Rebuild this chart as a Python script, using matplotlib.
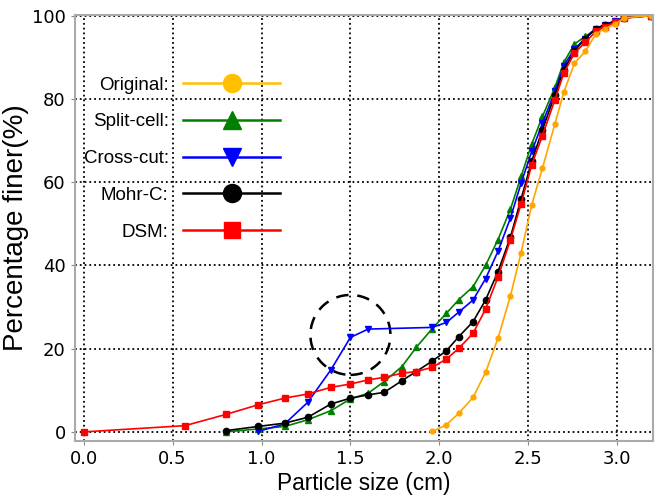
import matplotlib
matplotlib.use('Agg')
import matplotlib.pyplot as plt
from matplotlib.lines import Line2D
from matplotlib.patches import Ellipse

plt.rcParams['font.family'] = ['Liberation Sans', 'DejaVu Sans']

# sieve sizes (cm)
sizes = [0.80, 0.98, 1.13, 1.26, 1.39, 1.50, 1.60, 1.69, 1.79, 1.87, 1.96, 2.04, 2.11, 2.19,
         2.26, 2.33, 2.40, 2.46, 2.52, 2.58, 2.65, 2.70, 2.76, 2.82, 2.88, 2.93, 2.99, 3.04, 3.19]

orig_x = sizes[10:]
orig_y = [0.1, 1.7, 4.5, 8.3, 14.3, 22.5, 32.7, 43.1, 54.6, 63.4, 74.0, 81.6, 88.6, 91.4,
          95.6, 96.9, 98.0, 99.5, 100]

split_x = sizes
split_y = [0, 0.7, 1.3, 2.9, 5.1, 7.9, 9.3, 12.1, 15.7, 20.3, 24.8, 28.5, 31.8, 34.9, 40.0,
           46.2, 53.5, 61.4, 69.2, 75.8, 82.8, 88.8, 93.2, 95.0, 96.8, 97.8, 98.8, 99.6, 100]

cross_x = sizes[1:7] + sizes[10:]
cross_y = [0.1, 1.9, 7.1, 14.9, 22.7, 24.7, 25.1, 26.3, 28.8, 31.7, 36.8, 43.4, 51.4, 59.8,
           67.4, 74.2, 81.8, 88.0, 92.0, 94.5, 96.9, 97.8, 98.7, 99.5, 100]

mohr_x = sizes
mohr_y = [0.3, 1.3, 2.1, 3.5, 6.7, 8.1, 8.9, 9.5, 12.3, 14.5, 17.0, 19.5, 22.9, 26.5, 31.7,
          38.5, 46.8, 56.0, 65.1, 72.6, 81.0, 87.0, 91.5, 94.5, 96.8, 97.8, 98.6, 99.5, 100]

dsm_x = [0.0, 0.57] + sizes
dsm_y = [0, 1.5, 4.2, 6.5, 8.1, 9.1, 10.7, 11.5, 12.5, 13.1, 14.1, 14.5, 15.5, 17.5, 20.1,
         23.7, 29.5, 37.2, 46.2, 54.8, 64.2, 71.2, 79.8, 86.2, 91.0, 93.6, 96.2, 97.4, 98.4,
         99.4, 100]

LW = 1.2

fig = plt.figure(figsize=(6.56, 4.95), dpi=100)
ax = fig.add_axes([0.114, 0.109, 0.881, 0.861])

ax.plot(split_x, split_y, color='green', marker='^', ms=5, lw=LW)
ax.plot(cross_x, cross_y, color='blue', marker='v', ms=5, lw=LW)
ax.plot(mohr_x, mohr_y, color='black', marker='o', ms=4.5, lw=LW)
ax.plot(dsm_x, dsm_y, color='red', marker='s', ms=4.5, lw=LW)
ax.plot(orig_x, orig_y, color='orange', marker='o', ms=3.5, lw=LW)

# highlight circle
ax.add_patch(Ellipse((1.50, 23.3), 0.45, 19.2, fill=False, ec='black', lw=1.8,
                     ls=(0, (5, 3.5))))

ax.set_xlim(-0.05, 3.2)
ax.set_ylim(-2.2, 100.2)
ax.set_xticks([0.0, 0.5, 1.0, 1.5, 2.0, 2.5, 3.0])
ax.set_yticks([0, 20, 40, 60, 80, 100])
ax.grid(True, color='black', ls=':', lw=1.3)
for s in ax.spines.values():
    s.set_color('#aaaaaa')
    s.set_linewidth(1.5)
ax.tick_params(labelsize=13, color='#888888', length=3)
for lab in ax.get_xticklabels() + ax.get_yticklabels():
    lab.set_family('DejaVu Sans')
ax.set_xlabel('Particle size (cm)', fontsize=16.3, labelpad=3)
ax.set_ylabel('Percentage finer(%)', fontsize=20, labelpad=2)

handles = [
    Line2D([], [], color='#FFC000', marker='o', ms=13, lw=1.8),
    Line2D([], [], color='green', marker='^', ms=13, lw=1.8),
    Line2D([], [], color='blue', marker='v', ms=13, lw=1.8),
    Line2D([], [], color='black', marker='o', ms=13, lw=1.8),
    Line2D([], [], color='red', marker='s', ms=12, lw=1.8),
]
labels = ['Original:', 'Split-cell:', 'Cross-cut:', 'Mohr-C:', 'DSM:']
ax.legend(handles, labels, loc='upper left', bbox_to_anchor=(-0.014, 0.895), frameon=False,
          markerfirst=False, fontsize=13.5, handlelength=5.2, handletextpad=0.75,
          labelspacing=1.05)

fig.savefig('out.png', dpi=100)
